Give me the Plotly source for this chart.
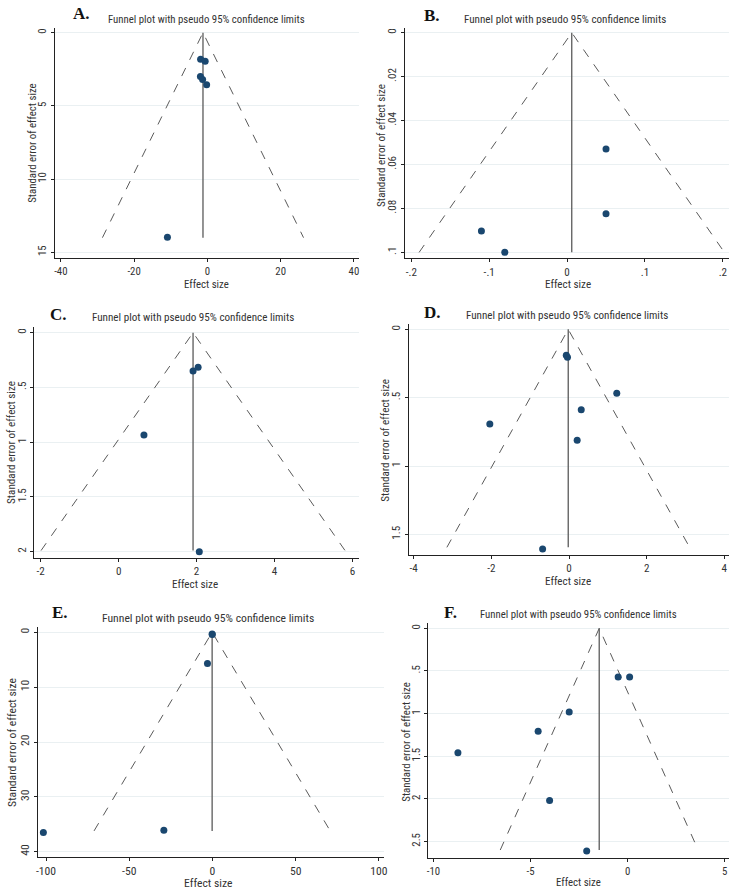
import plotly.graph_objects as go

# ---------------- data ----------------
A_effect = [-1.85, -0.6, -1.9, -1.3, -0.2, -10.9]
A_se = [1.82, 1.95, 3.0, 3.2, 3.55, 13.97]
A_center, A_semax = -1.2, 14.0
A_xticks = [-40, -20, 0, 20, 40]
A_xlabels = ["-40", "-20", "0", "20", "40"]
A_yticks = [0, 5, 10, 15]
A_ylabels = ["0", "5", "10", "15"]

B_effect = [0.05, 0.05, -0.11, -0.08]
B_se = [0.053, 0.0824, 0.0903, 0.1]
B_center, B_semax = 0.006, 0.1
B_xticks = [-0.2, -0.1, 0, 0.1, 0.2]
B_xlabels = ["-.2", "-.1", "0", ".1", ".2"]
B_yticks = [0, 0.02, 0.04, 0.06, 0.08, 0.1]
B_ylabels = ["0", ".02", ".04", ".06", ".08", ".1"]

C_effect = [1.91, 2.04, 0.65, 2.07]
C_se = [0.35, 0.316, 0.934, 2.0]
C_center, C_semax = 1.91, 1.99
C_xticks = [-2, 0, 2, 4, 6]
C_xlabels = ["-2", "0", "2", "4", "6"]
C_yticks = [0, 0.5, 1, 1.5, 2]
C_ylabels = ["0", ".5", "1", "1.5", "2"]

D_effect = [-0.07, -0.04, 1.23, 0.315, -2.04, 0.21, -0.68]
D_se = [0.19, 0.205, 0.468, 0.588, 0.693, 0.812, 1.607]
D_center, D_semax = -0.02, 1.595
D_xticks = [-4, -2, 0, 2, 4]
D_xlabels = ["-4", "-2", "0", "2", "4"]
D_yticks = [0, 0.5, 1, 1.5]
D_ylabels = ["0", ".5", "1", "1.5"]

E_effect = [-0.2, -0.1, -3.0, -29.2, -101.6]
E_se = [0.3, 0.4, 5.7, 36.1, 36.5]
E_center, E_semax = -0.2, 36.2
E_xticks = [-100, -50, 0, 50, 100]
E_xlabels = ["-100", "-50", "0", "50", "100"]
E_yticks = [0, 10, 20, 30, 40]
E_ylabels = ["0", "10", "20", "30", "40"]

F_effect = [-0.49, 0.10, -3.01, -4.61, -8.74, -4.02, -2.11]
F_se = [0.571, 0.571, 0.981, 1.207, 1.458, 2.02, 2.61]
F_center, F_semax = -1.465, 2.6
F_xticks = [-10, -5, 0, 5]
F_xlabels = ["-10", "-5", "0", "5"]
F_yticks = [0, 0.5, 1, 1.5, 2, 2.5]
F_ylabels = ["0", ".5", "1", "1.5", "2", "2.5"]

letters = ["A.", "B.", "C.", "D.", "E.", "F."]
title_text = "Funnel plot with pseudo 95% confidence limits"
x_title = "Effect size"
y_title = "Standard error of effect size"
Z = 1.96

# ---------------- layout geometry (pixels) ----------------
W, H = 740, 889
panels = [
    dict(eff=A_effect, se=A_se, c=A_center, m=A_semax, xt=A_xticks, xl=A_xlabels, yt=A_yticks, yl=A_ylabels,
         box=(53, 360, 28.3, 258), xr=(-41.7, 41.4), yr=(-0.3, 15.39), s=1.0,
         title=(205.7, 19), letter=(80, 14), xtit=(206, 284), ytit=(30, 143)),
    dict(eff=B_effect, se=B_se, c=B_center, m=B_semax, xt=B_xticks, xl=B_xlabels, yt=B_yticks, yl=B_ylabels,
         box=(406, 733, 28.3, 258.3), xr=(-0.2085, 0.208), yr=(-0.002, 0.1027), s=1.03,
         title=(568, 19), letter=(434, 15), xtit=(571, 284.5), ytit=(382, 145)),
    dict(eff=C_effect, se=C_se, c=C_center, m=C_semax, xt=C_xticks, xl=C_xlabels, yt=C_yticks, yl=C_ylabels,
         box=(32.7, 360, 326.7, 558), xr=(-2.16, 6.17), yr=(-0.055, 2.058), s=1.03,
         title=(193, 318), letter=(57, 314), xtit=(195, 584), ytit=(9, 442)),
    dict(eff=D_effect, se=D_se, c=D_center, m=D_semax, xt=D_xticks, xl=D_xlabels, yt=D_yticks, yl=D_ylabels,
         box=(410, 733.3, 324.3, 555), xr=(-4.13, 4.13), yr=(-0.037, 1.651), s=1.03,
         title=(570, 315), letter=(434, 312), xtit=(571, 581), ytit=(386, 440)),
    dict(eff=E_effect, se=E_se, c=E_center, m=E_semax, xt=E_xticks, xl=E_xlabels, yt=E_yticks, yl=E_ylabels,
         box=(36, 385, 627.3, 856.7), xr=(-105, 103), yr=(-0.9, 40.9), s=1.08,
         title=(208, 618), letter=(58, 612), xtit=(208, 883), ytit=(10, 742)),
    dict(eff=F_effect, se=F_se, c=F_center, m=F_semax, xt=F_xticks, xl=F_xlabels, yt=F_yticks, yl=F_ylabels,
         box=(429.3, 733, 622.7, 857.7), xr=(-10.29, 5.22), yr=(-0.066, 2.69), s=1.0,
         title=(581, 614), letter=(452, 612), xtit=(581, 882.5), ytit=(407, 742)),
]

FONT = "Roboto Condensed, Liberation Sans Narrow, Arial Narrow, Liberation Sans, Arial, sans-serif"
BASE = 10.8
MARK = "#1a476f"
LINE = "#5a5a5a"
GRID = "#eaf0f2"
TXT = "#333333"

fig = go.Figure()
annotations = []
layout_axes = {}

for i, p in enumerate(panels):
    n = "" if i == 0 else str(i + 1)
    xa, ya = "x" + n, "y" + n
    c, m = p["c"], p["m"]
    fs = BASE * p["s"]
    # dashed pseudo-95% limits
    fig.add_trace(go.Scatter(x=[c - Z * m, c, c + Z * m], y=[m, 0, m], mode="lines",
                             line=dict(color=LINE, width=1, dash="dash"),
                             xaxis=xa, yaxis=ya, showlegend=False, hoverinfo="skip"))
    # vertical line at pooled estimate
    fig.add_trace(go.Scatter(x=[c, c], y=[0, m], mode="lines",
                             line=dict(color=LINE, width=1.3),
                             xaxis=xa, yaxis=ya, showlegend=False, hoverinfo="skip"))
    # studies
    fig.add_trace(go.Scatter(x=p["eff"], y=p["se"], mode="markers",
                             marker=dict(color=MARK, size=7),
                             xaxis=xa, yaxis=ya, showlegend=False))
    x0, x1, y0, y1 = p["box"]
    layout_axes["xaxis" + n] = dict(
        domain=[x0 / W, x1 / W], anchor=ya, range=list(p["xr"]),
        tickvals=p["xt"], ticktext=p["xl"], ticks="outside", ticklen=3, tickcolor="#222",
        showline=True, linecolor="#222", linewidth=1, showgrid=False, zeroline=False,
        tickfont=dict(family=FONT, size=fs, color=TXT))
    layout_axes["yaxis" + n] = dict(
        domain=[1 - y1 / H, 1 - y0 / H], anchor=xa, range=[p["yr"][1], p["yr"][0]],
        tickvals=p["yt"], ticktext=p["yl"], ticks="outside", ticklen=3, tickcolor="#222",
        tickangle=-90, showline=True, linecolor="#222", linewidth=1,
        showgrid=True, gridcolor=GRID, gridwidth=1, zeroline=False,
        tickfont=dict(family=FONT, size=fs, color=TXT))
    tx, ty = p["title"]
    annotations.append(dict(text=title_text, x=tx / W, y=1 - ty / H, xref="paper", yref="paper",
                            showarrow=False, xanchor="center", yanchor="middle",
                            font=dict(family=FONT, size=fs, color=TXT)))
    lx, ly = p["letter"]
    annotations.append(dict(text="<b>" + letters[i] + "</b>", x=lx / W, y=1 - ly / H, xref="paper", yref="paper",
                            showarrow=False, xanchor="center", yanchor="middle",
                            font=dict(family="Liberation Serif, Times New Roman, serif", size=17, color="#111")))
    ex, ey = p["xtit"]
    annotations.append(dict(text=x_title, x=ex / W, y=1 - ey / H, xref="paper", yref="paper",
                            showarrow=False, xanchor="center", yanchor="middle",
                            font=dict(family=FONT, size=fs, color=TXT)))
    sx, sy = p["ytit"]
    annotations.append(dict(text=y_title, x=sx / W, y=1 - sy / H, xref="paper", yref="paper",
                            showarrow=False, xanchor="center", yanchor="middle", textangle=-90,
                            font=dict(family=FONT, size=fs, color=TXT)))

fig.update_layout(width=W, height=H, margin=dict(l=0, r=0, t=0, b=0),
                  paper_bgcolor="white", plot_bgcolor="white",
                  annotations=annotations, **layout_axes)

fig.write_html("out.html")
